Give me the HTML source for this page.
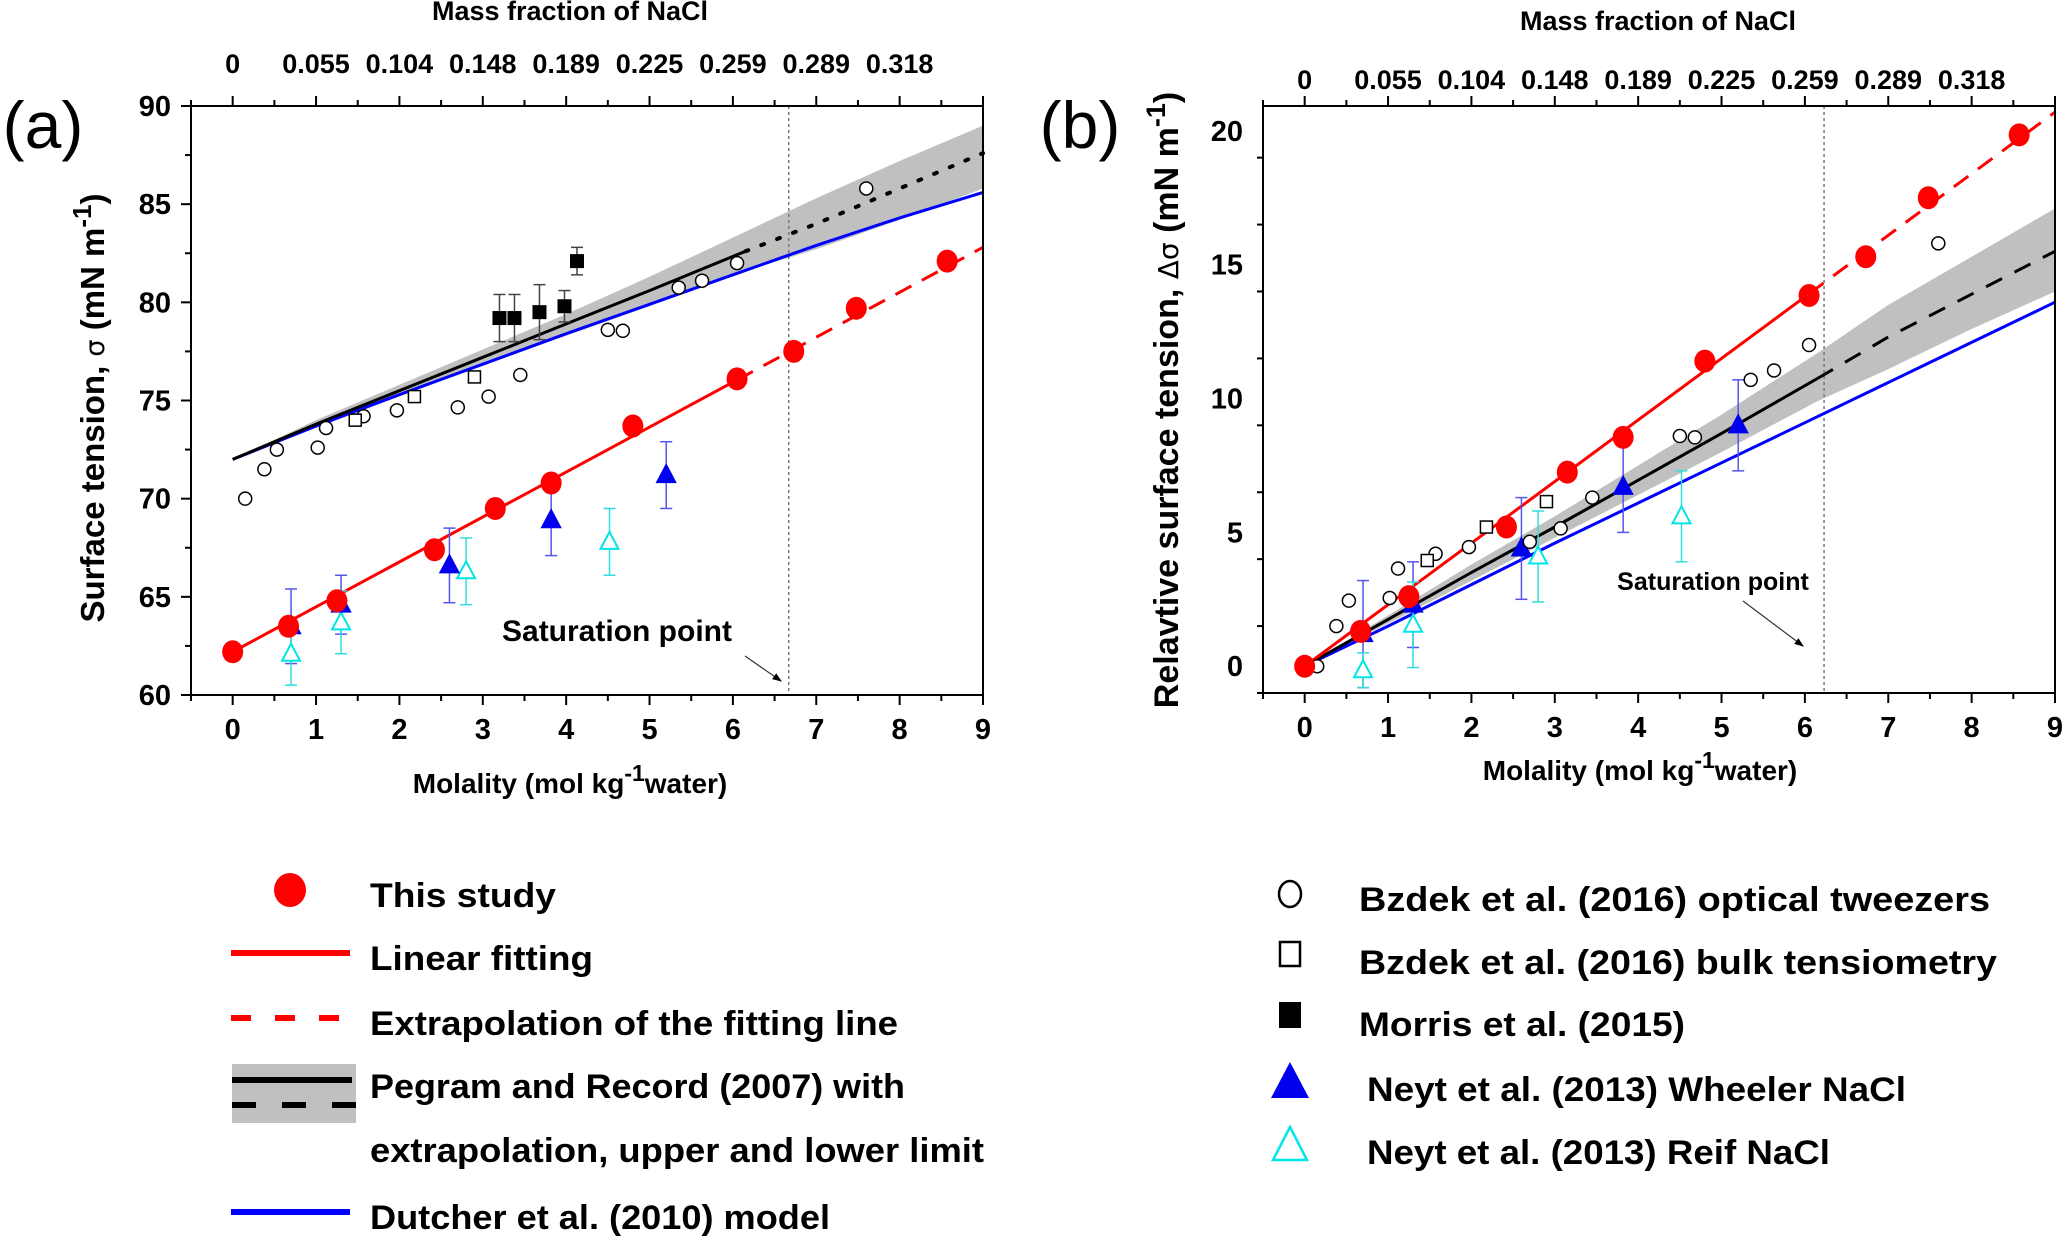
<!DOCTYPE html>
<html><head><meta charset="utf-8"><style>
html,body{margin:0;padding:0;background:#fff}
svg{display:block;font-family:"Liberation Sans",sans-serif;font-weight:bold}
</style></head><body>
<svg id="chart" width="2067" height="1242" viewBox="0 0 2067 1242" xmlns="http://www.w3.org/2000/svg">
<g id="layer"></g>
</svg>
<script>
// ---- Panel (a) data ----
const studyA_x = [0,0.67,1.25,2.42,3.15,3.82,4.8,6.05,6.73,7.48,8.57];
const studyA_y = [62.2,63.5,64.8,67.4,69.5,70.8,73.7,76.1,77.5,79.7,82.1];
const fitA = [62.2,82.8];
const dutcherX = [0,1,2,3,4,5,6,7,8,9];
const dutcherA = [72,73.7,75.3,76.85,78.4,79.9,81.4,82.9,84.3,85.6];
const pegramX = [0,1,2,3,4,5,6.15,7,8,9];
const pegramA = [72,73.8,75.5,77.2,78.9,80.6,82.6,84.0,85.8,87.6];
const pegramAlo = [72,73.6,75.2,76.8,78.3,79.8,81.6,82.7,84.2,85.8];
const pegramAhi = [72,74.0,75.8,77.6,79.4,81.3,83.6,85.3,87.2,89.0];
const optX = [0.15,0.38,0.53,1.02,1.12,1.57,1.97,2.7,3.07,3.45,4.5,4.68,5.35,5.63,6.05,7.6];
const optA = [70,71.5,72.5,72.6,73.6,74.2,74.5,74.65,75.2,76.3,78.6,78.55,80.75,81.1,82,85.8];
const bulkX = [1.47,2.18,2.9];
const bulkA = [74,75.2,76.2];
const morrisX = [3.2,3.38,3.68,3.98,4.13];
const morrisA = [79.2,79.2,79.5,79.8,82.1];
const morrisErr = [1.2,1.2,1.4,0.8,0.7];
const wheelerX = [0.7,1.3,2.6,3.82,5.2];
const wheelerA = [63.5,64.6,66.6,68.9,71.2];
const wheelerErrA = [1.9,1.5,1.9,1.8,1.7];
const reifX = [0.7,1.3,2.8,4.52];
const reifA = [62.1,63.7,66.3,67.8];
const reifErrA = [1.6,1.6,1.7,1.7];
const satA = 6.67;
// ---- Panel (b) data ----
const studyB_y = [0,1.3,2.6,5.2,7.25,8.55,11.4,13.85,15.3,17.5,19.85];
const fitB = [0,20.7];
const dutcherB = [0,1.5,3.05,4.6,6.1,7.6,9.1,10.6,12.1,13.6];
const pegramB = [0,1.75,3.5,5.2,6.95,8.7,10.75,12.3,13.9,15.5];
const pegramBlo = [0,1.6,3.2,4.8,6.4,8.0,9.9,11.1,12.6,14.0];
const pegramBhi = [0,1.9,3.8,5.6,7.5,9.4,11.7,13.5,15.3,17.1];
const optB = [0,1.5,2.45,2.55,3.65,4.2,4.45,4.65,5.15,6.3,8.6,8.55,10.7,11.05,12.0,15.8];
const bulkB = [3.95,5.2,6.15];
const wheelerB = [1.2,2.3,4.4,6.7,9.0];
const wheelerErrB = [2.0,1.6,1.9,1.7,1.7];
const reifB = [-0.15,1.55,4.1,5.6];
const reifErrB = [0.65,1.6,1.7,1.7];
const satB = 6.23;
const xTicks = [0,1,2,3,4,5,6,7,8,9];
const massTicks = ["0","0.055","0.104","0.148","0.189","0.225","0.259","0.289","0.318"];
const yTicksA = [60,65,70,75,80,85,90];
const yTicksB = [0,5,10,15,20];

const NS="http://www.w3.org/2000/svg";
const layer=document.getElementById('layer');
function mk(tag,attrs,parent,text){const e=document.createElementNS(NS,tag);for(const k in attrs)e.setAttribute(k,attrs[k]);if(text!==undefined)e.textContent=text;(parent||layer).appendChild(e);return e;}

function panel(P){
  const g=mk('g',{});
  
  
  const X=v=>P.x0+(v-P.xmin)/(P.xmax-P.xmin)*(P.x1-P.x0);
  const Y=v=>P.y1-(v-P.ymin)/(P.ymax-P.ymin)*(P.y1-P.y0);
  const pts=(xs,ys)=>xs.map((x,i)=>X(x).toFixed(1)+','+Y(ys[i]).toFixed(1)).join(' ');
  const band=mk('polygon',{points:pts(pegramX,P.hi)+' '+pts(pegramX.slice().reverse(),P.lo.slice().reverse()),fill:'#c0c0c0'},g);
  
  
  const sl=mk('line',{x1:X(P.sat),x2:X(P.sat),y1:P.y0,y2:P.y1,stroke:'#777','stroke-width':1.5,'stroke-dasharray':'3,3'},g);
  
  
  const dl=mk('polyline',{points:pts(dutcherX,P.dut),fill:'none',stroke:'#0000ff','stroke-width':3},g);
  
  
  const ps=mk('polyline',{points:pts(pegramX.slice(0,7),P.peg.slice(0,7)),fill:'none',stroke:'#000','stroke-width':3},g);
  
  
  const pe=mk('polyline',{points:pts(pegramX.slice(6),P.peg.slice(6)),fill:'none',stroke:'#000','stroke-width':P.dotted?4:3,'stroke-dasharray':P.dotted?'3,14':'18,14','stroke-linecap':P.dotted?'round':'butt'},g);
  
  
  const fy=x=>P.fit[0]+(P.fit[1]-P.fit[0])*x/9;
  const rf=mk('line',{x1:X(0),y1:Y(fy(0)),x2:X(6.05),y2:Y(fy(6.05)),stroke:'#ff0000','stroke-width':3},g);
  
  
  const re=mk('line',{x1:X(6.05),y1:Y(fy(6.05)),x2:X(9),y2:Y(fy(9)),stroke:'#ff0000','stroke-width':3,'stroke-dasharray':'18,12'},g);
  
  
  function ebar(x,y,e,col){const a=mk('g',{stroke:col,'stroke-width':1.5},g);
    mk('line',{x1:X(x),x2:X(x),y1:Y(y-e),y2:Y(y+e)},a);
    mk('line',{x1:X(x)-6,x2:X(x)+6,y1:Y(y-e),y2:Y(y-e)},a);
    mk('line',{x1:X(x)-6,x2:X(x)+6,y1:Y(y+e),y2:Y(y+e)},a);
    
    }
  P.morris && morrisX.forEach((x,i)=>ebar(x,P.morris[i],morrisErr[i],'#444'));
  wheelerX.forEach((x,i)=>ebar(x,P.wh[i],P.whErr[i],'#5555ee'));
  reifX.forEach((x,i)=>ebar(x,P.rf[i],P.rfErr[i],'#33dddd'));
  function tri(x,y,fill,stroke,nm){const cx=X(x),cy=Y(y);
    const t=mk('polygon',{points:`${cx},${cy-10} ${cx-9},${cy+7} ${cx+9},${cy+7}`,fill:fill,stroke:stroke,'stroke-width':2},g);
    
    }
  reifX.forEach((x,i)=>tri(x,P.rf[i],'#fff','#00e5e5','reif-point'));
  wheelerX.forEach((x,i)=>tri(x,P.wh[i],'#0000ee','#0000ee','wheeler-point'));
  optX.forEach((x,i)=>{const c=mk('circle',{cx:X(x),cy:Y(P.opt[i]),r:6.5,fill:'#fff',stroke:'#000','stroke-width':1.5},g);
    
    });
  bulkX.forEach((x,i)=>{const r=mk('rect',{x:X(x)-6,y:Y(P.bulk[i])-6,width:12,height:12,fill:'#fff',stroke:'#000','stroke-width':1.5},g);
    
    });
  P.morris && morrisX.forEach((x,i)=>{const r=mk('rect',{x:X(x)-7,y:Y(P.morris[i])-7,width:14,height:14,fill:'#000'},g);
    
    });
  studyA_x.forEach((x,i)=>{const c=mk('ellipse',{cx:X(x),cy:Y(P.st[i]),rx:10.5,ry:11.5,fill:'#ff0000'},g);
    
    });
  const fr=mk('rect',{x:P.x0,y:P.y0,width:P.x1-P.x0,height:P.y1-P.y0,fill:'none',stroke:'#000','stroke-width':2},g);
  
  
  for(let v=-0.5;v<=9.001;v+=0.5){const maj=Math.abs(v-Math.round(v))<1e-6;
    mk('line',{x1:X(v),x2:X(v),y1:P.y1,y2:P.y1+(maj?10:6),stroke:'#000','stroke-width':2},g);
    mk('line',{x1:X(v),x2:X(v),y1:P.y0,y2:P.y0-(maj?10:6),stroke:'#000','stroke-width':2},g);}
  xTicks.forEach(v=>{const t=mk('text',{x:X(v),y:P.y1+44,'font-size':29,'text-anchor':'middle'},g,String(v));
    
    });
  massTicks.forEach((s,i)=>{const t=mk('text',{x:X(i),y:P.massY,'font-size':27,'text-anchor':'middle'},g,s);
    
    });
  for(let v=P.ymin;v<=P.ymax+1e-6;v+=P.minor){if(v<P.ymin)continue;
    const maj=Math.abs(v/P.major-Math.round(v/P.major))<1e-6;
    mk('line',{x1:P.x0,x2:P.x0-(maj?10:6),y1:Y(v),y2:Y(v),stroke:'#000','stroke-width':2},g);}
  P.yTicks.forEach(v=>{const t=mk('text',{x:P.x0-20,y:Y(v)+10,'font-size':29,'text-anchor':'end'},g,String(v));
    
    });
  return {X,Y};
}

panel({name:'panel-a',x0:191,x1:983,y0:106,y1:695,xmin:-0.5,xmax:9,ymin:60,ymax:90,major:5,minor:2.5,yTicks:yTicksA,massY:73,
  st:studyA_y,fit:fitA,dut:dutcherA,peg:pegramA,lo:pegramAlo,hi:pegramAhi,opt:optA,bulk:bulkA,morris:morrisA,
  wh:wheelerA,whErr:wheelerErrA,rf:reifA,rfErr:reifErrA,sat:satA,dotted:true});
panel({name:'panel-b',x0:1263,x1:2055,y0:106,y1:693,xmin:-0.5,xmax:9,ymin:-1,ymax:20.93,major:5,minor:2.5,yTicks:yTicksB,massY:89,
  st:studyB_y,fit:fitB,dut:dutcherB,peg:pegramB,lo:pegramBlo,hi:pegramBhi,opt:optB,bulk:bulkB,morris:null,
  wh:wheelerB,whErr:wheelerErrB,rf:reifB,rfErr:reifErrB,sat:satB,dotted:false});
</script>
<script>
(function(){
const NS="http://www.w3.org/2000/svg";const layer=document.getElementById('layer');
function mk(tag,attrs,text){const e=document.createElementNS(NS,tag);for(const k in attrs)e.setAttribute(k,attrs[k]);if(text!==undefined)e.textContent=text;layer.appendChild(e);return e;}
let e;
e=mk('text',{x:43,y:148,'font-size':66,'font-weight':'normal','text-anchor':'middle'},'(a)');


e=mk('text',{x:1080,y:148,'font-size':66,'font-weight':'normal','text-anchor':'middle'},'(b)');


e=mk('text',{x:570,y:20,'font-size':27,'text-anchor':'middle'},'Mass fraction of NaCl');


e=mk('text',{x:1658,y:30,'font-size':27,'text-anchor':'middle'},'Mass fraction of NaCl');


function xt(cx,cy,nm){const t=mk('text',{x:cx,y:cy,'font-size':28,'text-anchor':'middle'});
 t.innerHTML='Molality (mol kg<tspan dy="-12" font-size="23">-1</tspan><tspan dy="12">water)</tspan>';
 
 }
xt(570,793,'x-axis-title-a');xt(1640,780,'x-axis-title-b');
function yt(cx,cy,lab,sym,fs,nm){const t=mk('text',{x:0,y:0,'font-size':fs,'text-anchor':'middle',transform:`translate(${cx},${cy}) rotate(-90)`});
 t.innerHTML=lab+' <tspan font-weight="normal" font-family="DejaVu Sans,sans-serif" font-size="'+(fs-6)+'">'+sym+'</tspan>  (mN m<tspan dy="-13" font-size="'+(fs-7)+'">-1</tspan><tspan dy="13">)</tspan>';
 
 }
yt(104,408,'Surface tension,','σ',33,'y-axis-title-a');
yt(1178,400,'Relavtive surface  tension,','Δσ',34,'y-axis-title-b');
e=mk('text',{x:617,y:641,'font-size':30,'text-anchor':'middle'},'Saturation point');


e=mk('text',{x:1713,y:590,'font-size':25,'text-anchor':'middle'},'Saturation point');


mk('defs',{}).innerHTML='<marker id="ah" markerWidth="8" markerHeight="8" refX="7" refY="4" orient="auto"><path d="M0,1 L8,4 L0,7z" fill="#000"/></marker>';
e=mk('line',{x1:745,y1:656,x2:781,y2:681,stroke:'#333','stroke-width':1.2,'marker-end':'url(#ah)'});


e=mk('line',{x1:1743,y1:601,x2:1803,y2:646,stroke:'#333','stroke-width':1.2,'marker-end':'url(#ah)'});


const LY=[895,958,1023,1086,1150,1217];
const LT=['This  study','Linear  fitting','Extrapolation  of  the  fitting line','Pegram and Record (2007) with','extrapolation, upper and lower limit','Dutcher et al. (2010) model'];
const LW=[186,223,528,535,614,460];
LT.forEach((s,i)=>{const t=mk('text',{x:370,y:LY[i]+12,'font-size':34,textLength:LW[i],lengthAdjust:'spacingAndGlyphs'},s);
 
 });
e=mk('ellipse',{cx:290,cy:LY[0]-5,rx:16,ry:17,fill:'#ff0000'});


e=mk('line',{x1:231,x2:350,y1:LY[1]-5,y2:LY[1]-5,stroke:'#ff0000','stroke-width':6});


e=mk('line',{x1:231,x2:350,y1:LY[2]-5,y2:LY[2]-5,stroke:'#ff0000','stroke-width':6,'stroke-dasharray':'20,24'});


e=mk('rect',{x:232,y:1064,width:124,height:59,fill:'#c0c0c0'});


e=mk('line',{x1:232,x2:352,y1:1080,y2:1080,stroke:'#000','stroke-width':6});


e=mk('line',{x1:232,x2:356,y1:1105,y2:1105,stroke:'#000','stroke-width':6,'stroke-dasharray':'24,26'});


e=mk('line',{x1:231,x2:350,y1:LY[5]-5,y2:LY[5]-5,stroke:'#0000ff','stroke-width':6});


const RY=[899,962,1024,1089,1152];
const RX=[1359,1359,1359,1367,1367];
const RT=['Bzdek et al.  (2016)  optical  tweezers','Bzdek et al.  (2016)  bulk  tensiometry','Morris et al.  (2015)','Neyt et al.  (2013) Wheeler NaCl','Neyt et al.  (2013) Reif NaCl'];
const RW=[631,638,326,539,463];
RT.forEach((s,i)=>{const t=mk('text',{x:RX[i],y:RY[i]+12,'font-size':34,textLength:RW[i],lengthAdjust:'spacingAndGlyphs'},s);
 
 });
e=mk('ellipse',{cx:1290,cy:RY[0]-5,rx:11,ry:13,fill:'#fff',stroke:'#000','stroke-width':2.5});


e=mk('rect',{x:1280,y:RY[1]-20,width:20,height:24,fill:'#fff',stroke:'#000','stroke-width':2.5});


e=mk('rect',{x:1279,y:RY[2]-22,width:22,height:26,fill:'#000'});


e=mk('polygon',{points:`1290,${RY[3]-27} 1271,${RY[3]+9} 1309,${RY[3]+9}`,fill:'#0000ee'});


e=mk('polygon',{points:`1290,${RY[4]-25} 1273,${RY[4]+8} 1307,${RY[4]+8}`,fill:'#fff',stroke:'#00e5e5','stroke-width':2.5});


})();
</script>
</body></html>
